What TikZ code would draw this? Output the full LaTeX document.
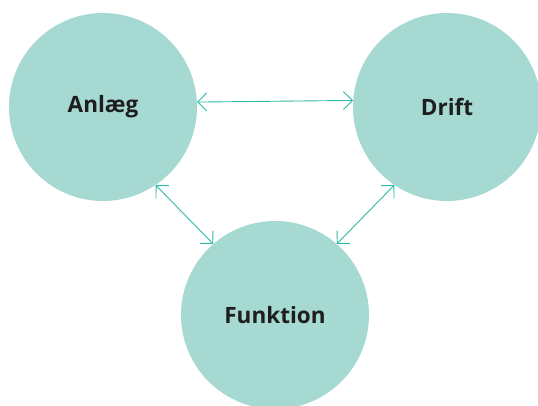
\documentclass[tikz,border=0pt]{standalone}
\usepackage{fontspec}
\setmainfont{Open Sans}
\usetikzlibrary{arrows.meta}
\definecolor{circfill}{HTML}{A5D9D1}
\definecolor{arrcol}{HTML}{2DBBA8}
\definecolor{txtcol}{HTML}{1E1E1E}
\tikzset{
  bubble/.style={circle, fill=circfill, minimum size=188pt, inner sep=0pt,
    text=txtcol, font=\fontsize{22.5}{26}\selectfont\bfseries},
  link/.style={draw=arrcol, line width=0.9pt,
    {Straight Barb[length=9pt,width=18pt]}-{Straight Barb[length=9pt,width=18pt]}}
}
\begin{document}
\begin{tikzpicture}[x=1pt,y=-1pt]
\useasboundingbox (0,0) rectangle (538,406);
\begin{scope}
\clip (0,0) rectangle (538,406);
\node[bubble] (A) at (103,107) {Anlæg};
\node[bubble] (D) at (447,107) {Drift};
\node[bubble] (F) at (275,315) {Funktion};
\end{scope}
\draw[link] (A.3.7) -- (D.176.3);
\draw[link] (A.-56) -- (F.131);
\draw[link] (D.-124) -- (F.49);
\end{tikzpicture}
\end{document}
